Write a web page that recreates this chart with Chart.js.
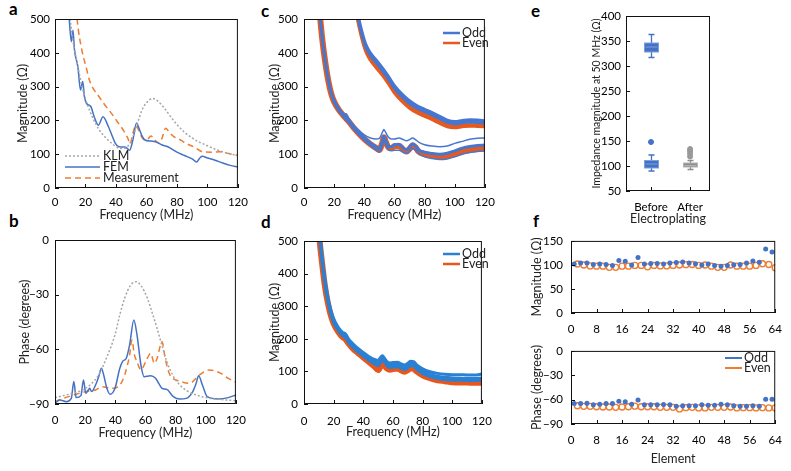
<!DOCTYPE html>
<html>
<head>
<meta charset="utf-8">
<script src="https://cdn.jsdelivr.net/npm/chart.js@4.4.1/dist/chart.umd.min.js"></script>
<style>
body { margin: 0; background: #fff; width: 791px; height: 471px; position: relative; overflow: hidden; }
canvas { position: absolute; }
.lbl { position: absolute; font: bold 17px Lato, sans-serif; line-height: 17px; color: #000; }
</style>
</head>
<body>
<div class="lbl" style="left:9px;top:0px">a</div>
<div class="lbl" style="left:9px;top:212px">b</div>
<div class="lbl" style="left:261px;top:2px">c</div>
<div class="lbl" style="left:261px;top:213px">d</div>
<div class="lbl" style="left:531px;top:2px">e</div>
<div class="lbl" style="left:533px;top:212px">f</div>
<canvas id="ca"></canvas>
<canvas id="cb"></canvas>
<canvas id="cc"></canvas>
<canvas id="cd"></canvas>
<canvas id="ce"></canvas>
<canvas id="cf1"></canvas>
<canvas id="cf2"></canvas>
<script>
// ---- a: impedance magnitude, single element ----
const aKlmFreq = [9, 10, 12, 15, 18, 21, 25, 29, 33, 37, 41, 45, 48, 51, 54, 57, 60, 64, 68, 72, 76, 80, 85, 90, 95, 100, 105, 110, 115, 120];
const aKlmMag = [560, 500, 430, 360, 295, 250, 205, 172, 150, 133, 120, 117, 125, 150, 190, 230, 252, 265, 255, 235, 210, 188, 165, 148, 135, 125, 115, 107, 101, 96];
const aFemFreq = [8.5, 9.5, 10.7, 11.8, 12.8, 15, 16.7, 18.2, 19.3, 20.7, 23.5, 25.7, 28.4, 31.5, 35, 37, 39.5, 42, 46, 49, 51, 53.5, 55, 57, 59, 63, 67, 70, 74, 80, 85, 90, 93, 94.5, 96.5, 100, 105, 110, 115, 120];
const aFemMag = [560, 490, 433, 467, 408, 359, 290, 315, 270, 250, 241, 211, 186, 211, 182, 160, 133, 122, 121, 112, 140, 192, 178, 155, 142, 139, 135, 128, 122, 106, 96, 86, 77, 86, 94, 89, 82, 74, 67, 62];
const aMeasFreq = [13.5, 14.5, 18, 20.3, 22.5, 25, 28.9, 32, 35.3, 38, 41.7, 45, 48, 49.3, 51, 53.2, 55, 57, 59, 61, 63, 65, 68.4, 70, 72.7, 75, 78, 82.4, 86, 91, 97, 103, 108, 114, 120];
const aMeasMag = [560, 500, 400, 360, 320, 295, 270, 250, 231, 215, 191, 170, 145, 130, 160, 186, 170, 150, 142, 145, 154, 145, 132, 145, 177, 165, 152, 142, 132, 122, 107, 106, 107, 102, 96];

// ---- b: phase, single element ----
const bKlmFreq = [0, 10, 18.3, 24, 29, 34, 39.8, 43, 46.2, 50, 53.8, 57, 61.3, 64.5, 67.7, 71, 74.2, 78, 82.8, 88, 93.5, 100, 108.6, 120];
const bKlmPhase = [-86.5, -84.5, -82.3, -79, -74, -65, -52, -41, -32, -25, -22.9, -25, -32, -40, -48.5, -58, -66.8, -74, -79.6, -83, -85, -86.5, -87.4, -88.2];
const bFemFreq = [0, 3.2, 7.5, 10.8, 12.5, 14, 17.2, 18.9, 20.4, 22.1, 23, 24.3, 26.9, 29, 30.8, 32.3, 34.4, 36.6, 39.8, 43, 45, 47.3, 49.5, 52.3, 54.4, 57, 59.1, 63.4, 66.7, 69, 71, 74.2, 78.5, 82.8, 87.1, 91.4, 93.5, 95.3, 97.8, 101, 108.6, 115, 120];
const bFemPhase = [-89.6, -87.8, -88.7, -86.9, -77.7, -86.5, -85.4, -76.8, -84.1, -82.3, -81.4, -83.2, -79.6, -75, -70.4, -74.1, -81.4, -84.7, -81.4, -70.4, -66.5, -64.9, -57.6, -43.9, -52.1, -68.6, -75, -74.5, -75.9, -79, -81.4, -82, -86, -87.3, -86.9, -83.2, -79, -74.5, -79.6, -86, -87.3, -86.5, -85];
const bMeasFreq = [0, 5.4, 14, 20.4, 26.9, 31.2, 37.6, 43, 46.2, 49.5, 51, 52.7, 54.4, 57, 60.2, 63.4, 66, 67.7, 71, 73.1, 76.3, 82.8, 89.2, 95.7, 102.2, 108.6, 115, 120];
const bMeasPhase = [-88.7, -86.9, -84.7, -83.2, -82.3, -80.5, -81.4, -79.6, -74.1, -63.1, -54.9, -63.1, -66.8, -71.3, -66.8, -62.2, -67.7, -65, -55.8, -65, -74.1, -77.4, -78.7, -74.1, -71.3, -72.6, -75.9, -78.1];

// ---- c: array magnitude before electroplating ----
const cHiFreq = [33, 35, 38, 41, 44, 48, 52, 56, 60, 65, 70, 75, 80, 85, 90, 95, 100, 105, 110, 115, 120];
const cHiOddA = [580, 530, 470, 425, 400, 378, 355, 330, 303, 278, 258, 243, 233, 223, 212, 201, 197, 200, 202, 201, 199];
const cHiOddB = [572, 522, 462, 417, 392, 370, 347, 322, 295, 270, 250, 236, 226, 216, 205, 194, 190, 193, 195, 194, 192];
const cHiEvenA = [565, 515, 455, 410, 385, 362, 340, 315, 288, 263, 243, 229, 219, 209, 198, 187, 183, 186, 188, 187, 186];
const cHiEvenB = [558, 508, 448, 403, 378, 355, 333, 308, 281, 256, 236, 222, 212, 202, 191, 181, 178, 181, 183, 182, 181];
const cLoFreq = [10, 11, 12, 14, 16, 18, 20, 23, 26, 28, 30, 33, 36, 40, 44, 48, 50, 52, 53, 54, 56, 58, 60, 63, 66, 68, 70, 72, 74, 76, 80, 85, 90, 95, 100, 105, 110, 115, 120];
const cLoOddTop = [545, 495, 450, 380, 325, 285, 260, 237, 220, 220, 203, 186, 172, 157, 148, 145, 147, 165, 173, 166, 150, 145, 145, 148, 143, 140, 143, 148, 143, 136, 128, 124, 122, 124, 132, 138, 144, 147, 148];
const cLoOddMid = [542, 493, 448, 378, 323, 283, 258, 235, 218, 211, 198, 181, 166, 148, 133, 121, 116, 138, 153, 143, 124, 122, 128, 129, 118, 113, 121, 131, 125, 113, 106, 102, 100, 103, 110, 118, 123, 126, 127];
const cLoOddLow = [535, 485, 440, 370, 315, 275, 250, 227, 210, 199, 190, 173, 158, 140, 125, 111, 106, 125, 142, 132, 112, 110, 112, 112, 105, 102, 108, 117, 112, 102, 92, 87, 84, 86, 92, 100, 105, 108, 110];
const cLoEven = [540, 490, 445, 375, 320, 280, 255, 232, 215, 205, 195, 178, 163, 145, 130, 118, 113, 135, 150, 140, 120, 118, 124, 125, 113, 108, 116, 126, 120, 108, 100, 96, 93, 95, 100, 108, 112, 115, 117];

// ---- d: array magnitude after electroplating ----
const dFreq = [10, 11, 12, 14, 16, 18, 20, 23, 26, 28, 30, 33, 36, 40, 44, 48, 50, 52, 53, 54, 56, 58, 60, 63, 66, 68, 70, 72, 74, 76, 80, 85, 90, 95, 100, 105, 110, 115, 120];
const dOddTop = [560, 505, 460, 385, 330, 290, 262, 236, 220, 215, 200, 185, 172, 158, 145, 136, 134, 145, 148, 142, 130, 126, 127, 128, 122, 120, 125, 131, 130, 120, 108, 99, 94, 91, 90, 90, 89, 89, 92];
const dOddMid = [552, 498, 453, 378, 323, 283, 255, 230, 214, 209, 194, 179, 166, 152, 139, 129, 126, 138, 142, 136, 124, 119, 120, 121, 116, 114, 119, 125, 124, 114, 101, 91, 85, 82, 80, 79, 78, 78, 80];
const dOddLow = [545, 492, 447, 372, 318, 278, 250, 226, 210, 204, 189, 174, 161, 147, 133, 122, 117, 131, 136, 130, 117, 112, 113, 114, 109, 106, 111, 117, 116, 106, 94, 84, 78, 75, 73, 73, 72, 72, 74];
const dEven = [530, 480, 440, 365, 312, 273, 247, 222, 205, 199, 186, 170, 158, 143, 128, 113, 104, 119, 127, 121, 109, 105, 107, 109, 102, 99, 104, 110, 108, 100, 88, 79, 73, 70, 67, 66, 66, 65, 65];

// ---- e: impedance at 50 MHz, box stats [min, q1, median, q3, max] ----
const eGroups = ['Before', 'After'];
const eBeforeHighBox = [317, 328, 338, 346, 363];
const eBeforeLowBox = [90, 96, 104, 111, 122];
const eAfterBox = [93, 98, 101, 106, 111];
const eBeforeOutliers = [148];
const eAfterOutliers = [119, 125, 130, 134];

// ---- f: per-element values at 50 MHz ----
const fOddElem = [1, 3, 5, 7, 9, 11, 13, 15, 17, 19, 21, 23, 25, 27, 29, 31, 33, 35, 37, 39, 41, 43, 45, 47, 49, 51, 53, 55, 57, 59, 61, 63];
const fEvenElem = [2, 4, 6, 8, 10, 12, 14, 16, 18, 20, 22, 24, 26, 28, 30, 32, 34, 36, 38, 40, 42, 44, 46, 48, 50, 52, 54, 56, 58, 60, 62, 64];
const fOddMag = [102, 104, 104, 101, 102, 101, 99, 109, 107.5, 100, 115.6, 102, 103, 103, 102, 104, 105, 106, 104, 102.5, 100, 102, 99, 97.5, 99, 100.6, 101, 104, 108, 105.6, 133, 127];
const fEvenMag = [102, 100, 98, 97.5, 97.5, 95, 95, 97.5, 97.5, 99, 99, 96, 99, 98, 98, 99, 100, 100.6, 101, 99, 100, 97.5, 95, 95, 100, 97.5, 97.5, 97.5, 99, 102.5, 101, 94];
const fOddPhase = [-64.9, -64.9, -64.5, -66.4, -65.7, -64.9, -64.9, -61.9, -62.6, -65.7, -60.4, -66.4, -66.4, -66.4, -66, -66.4, -68.3, -67.6, -67.6, -67.6, -66.4, -66.8, -66.8, -65.7, -66.4, -67.6, -68, -68.3, -67.6, -68.3, -59.6, -59.6];
const fEvenPhase = [-67.6, -68.3, -68.3, -68.7, -69.1, -69.1, -69.5, -69.1, -68.7, -68, -68.7, -68.7, -68.7, -69.5, -69.5, -69.5, -71.4, -69.9, -69.5, -70.2, -70.2, -69.5, -69.5, -69.5, -69.1, -70.2, -69.9, -69.9, -70.2, -69.9, -70.2, -70.2];

const BLUE = '#4472c4', ORANGE = '#ed7d31', GREY = '#a6a6a6';
const C_BLUE = '#4677d0', C_ORANGE = '#e65a1e';
const D_BLUE = '#2a80d2', D_ORANGE = '#e8561c';

const TICK_SIZE = 11.5, TITLE_SIZE = 12.5, LEGEND_SIZE = 12.5;

Chart.defaults.font.family = 'Lato, sans-serif';
Chart.defaults.font.size = TICK_SIZE;
Chart.defaults.color = '#000';
Chart.defaults.animation = false;
Chart.defaults.plugins.legend.display = false;
Chart.defaults.plugins.tooltip.enabled = false;
Chart.defaults.elements.point.radius = 0;

function pts(xs, ys) {
    return xs.map((x, i) => ({ x: x, y: ys[i] }));
}

function curve(label, xs, ys, color, width, dash) {
    return {
        label: label,
        data: pts(xs, ys),
        borderColor: color,
        backgroundColor: color,
        borderWidth: width,
        borderDash: dash || [],
        fill: false,
        cubicInterpolationMode: 'monotone'
    };
}

const minus = v => String(v).replace('-', '\u2212');

// box round the plot and short ticks pointing inwards
const frame = {
    id: 'frame',
    afterDraw(chart) {
        const { ctx, chartArea: a, scales } = chart;
        ctx.save();
        ctx.strokeStyle = '#111';
        ctx.lineWidth = 1;
        ctx.strokeRect(a.left + 0.5, a.top + 0.5, a.right - a.left - 1, a.bottom - a.top - 1);
        ctx.beginPath();
        scales.x.ticks.forEach((t, i) => {
            const px = Math.round(scales.x.getPixelForTick(i)) + 0.5;
            ctx.moveTo(px, a.bottom);
            ctx.lineTo(px, a.bottom - 4);
        });
        scales.y.ticks.forEach((t, i) => {
            const py = Math.round(scales.y.getPixelForTick(i)) + 0.5;
            ctx.moveTo(a.left, py);
            ctx.lineTo(a.left + 4, py);
        });
        ctx.stroke();
        ctx.restore();
    }
};

// legend drawn with short line samples at given spots
const lineLegend = {
    id: 'lineLegend',
    afterDraw(chart, args, o) {
        if (!o.items) return;
        const ctx = chart.ctx;
        ctx.save();
        ctx.font = LEGEND_SIZE + 'px Lato, sans-serif';
        ctx.textBaseline = 'middle';
        ctx.fillStyle = '#222';
        o.items.forEach((it, i) => {
            const y = o.y + i * o.row;
            ctx.strokeStyle = it.color;
            ctx.lineWidth = it.width;
            ctx.setLineDash(it.dash || []);
            ctx.beginPath();
            ctx.moveTo(o.x0, y);
            ctx.lineTo(o.x1, y);
            ctx.stroke();
            ctx.fillText(it.label, o.tx, y);
        });
        ctx.restore();
    }
};

// box and whiskers for panel e
const boxPlot = {
    id: 'boxPlot',
    beforeDatasetsDraw(chart, args, o) {
        if (!o.boxes) return;
        const { ctx, scales: { x, y } } = chart;
        o.boxes.forEach(b => {
            const cx = Math.round(x.getPixelForValue(b.pos)) + 0.5;
            const [lo, q1, med, q3, hi] = b.stats.map(v => y.getPixelForValue(v));
            const hw = o.width / 2;
            ctx.save();
            ctx.strokeStyle = b.color;
            ctx.lineWidth = 1.3;
            ctx.beginPath();
            ctx.moveTo(cx, lo); ctx.lineTo(cx, q1);
            ctx.moveTo(cx, q3); ctx.lineTo(cx, hi);
            ctx.moveTo(cx - 3, lo); ctx.lineTo(cx + 3, lo);
            ctx.moveTo(cx - 3, hi); ctx.lineTo(cx + 3, hi);
            ctx.stroke();
            ctx.fillStyle = b.color;
            ctx.fillRect(cx - hw, q3, 2 * hw, q1 - q3);
            ctx.strokeStyle = b.light;
            ctx.lineWidth = 1;
            ctx.strokeRect(cx - hw, q3, 2 * hw, q1 - q3);
            ctx.beginPath();
            ctx.moveTo(cx - hw + 1, med); ctx.lineTo(cx + hw - 1, med);
            ctx.stroke();
            ctx.restore();
        });
    }
};

Chart.register(frame, lineLegend, boxPlot);

// p: cv (canvas box), plot (plot box), page coordinates
function makeChart(id, p, datasets, extra) {
    const el = document.getElementById(id);
    el.width = p.cv.w;
    el.height = p.cv.h;
    el.style.left = p.cv.x + 'px';
    el.style.top = p.cv.y + 'px';

    const tickHalf = TICK_SIZE * 0.6;
    const xTitleSize = p.xTitleSize || TITLE_SIZE;
    const yTitleSize = p.yTitleSize || TITLE_SIZE;
    const opts = {
        responsive: false,
        layout: { padding: { left: 0, top: p.plot.t - p.cv.y, right: p.cv.x + p.cv.w - p.plot.r, bottom: 0 } },
        scales: {
            x: {
                type: 'linear',
                min: p.x[0], max: p.x[1],
                ticks: { stepSize: p.x[2], padding: p.xTickY - p.plot.b - tickHalf, autoSkip: false, maxRotation: 0, callback: p.xLabels || minus },
                grid: { display: false, drawTicks: false },
                border: { display: false },
                title: {
                    display: !!p.xTitle, text: p.xTitle || '', color: '#222', font: { size: xTitleSize },
                    padding: { top: 0, bottom: p.xTitle ? p.cv.y + p.cv.h - p.xTitleY - xTitleSize * 0.6 : 0 }
                },
                afterBuildTicks: p.xTicks ? (s => { s.ticks = p.xTicks.map(v => ({ value: v })); }) : undefined,
                afterFit: s => { s.height = p.cv.y + p.cv.h - p.plot.b; }
            },
            y: {
                min: p.y[0], max: p.y[1],
                ticks: { stepSize: p.y[2], padding: p.plot.l - p.yTickRight, autoSkip: false, callback: minus },
                grid: { display: false, drawTicks: false },
                border: { display: false },
                title: {
                    display: true, text: p.yTitle, color: '#222', font: { size: yTitleSize },
                    padding: { top: p.yTitleX - p.cv.x - yTitleSize * 0.6, bottom: 0 }
                },
                afterFit: s => { s.width = p.plot.l - p.cv.x; }
            }
        },
        plugins: {}
    };
    if (p.legend) {
        const L = p.legend;
        opts.plugins.lineLegend = { items: L.items, x0: L.x0 - p.cv.x, x1: L.x1 - p.cv.x, tx: L.tx - p.cv.x, y: L.y - p.cv.y, row: L.row };
    }
    if (extra) Object.assign(opts.plugins, extra);
    return new Chart(el, { type: 'line', data: { datasets: datasets }, options: opts });
}

const freqAxis = [0, 120, 20];

// a
makeChart('ca', {
    cv: { x: 0, y: 0, w: 255, h: 222 }, plot: { l: 55, t: 19, r: 242, b: 188 },
    x: freqAxis, y: [0, 500, 100], xTitle: 'Frequency (MHz)', yTitle: 'Magnitude (\u03a9)',
    yTitleX: 23, xTickY: 202, xTitleY: 215, yTickRight: 50,
    legend: {
        x0: 65, x1: 100, tx: 103, y: 156, row: 11,
        items: [
            { label: 'KLM', color: GREY, width: 1.5, dash: [2, 2] },
            { label: 'FEM', color: BLUE, width: 1.5 },
            { label: 'Measurement', color: ORANGE, width: 1.5, dash: [6, 4] }
        ]
    }
}, [
    curve('KLM', aKlmFreq, aKlmMag, GREY, 1.5, [2, 2]),
    curve('FEM', aFemFreq, aFemMag, BLUE, 1.5),
    curve('Measurement', aMeasFreq, aMeasMag, ORANGE, 1.5, [6, 4])
]);

// b
makeChart('cb', {
    cv: { x: 0, y: 226, w: 255, h: 214 }, plot: { l: 55, t: 240, r: 241, b: 404 },
    x: freqAxis, y: [-90, 0, 30], xTitle: 'Frequency (MHz)', yTitle: 'Phase (degrees)',
    yTitleX: 25, xTickY: 420, xTitleY: 433, yTickRight: 49
}, [
    curve('KLM', bKlmFreq, bKlmPhase, GREY, 1.5, [2, 2]),
    curve('FEM', bFemFreq, bFemPhase, BLUE, 1.5),
    curve('Measurement', bMeasFreq, bMeasPhase, ORANGE, 1.5, [6, 4])
]);

// c
makeChart('cc', {
    cv: { x: 262, y: 0, w: 240, h: 222 }, plot: { l: 304, t: 19, r: 492, b: 188 },
    x: freqAxis, y: [0, 500, 100], xTitle: 'Frequency (MHz)', yTitle: 'Magnitude (\u03a9)',
    yTitleX: 275, xTickY: 202, xTitleY: 215, yTickRight: 298,
    legend: {
        x0: 443, x1: 460, tx: 462, y: 33, row: 10,
        items: [
            { label: 'Odd', color: C_BLUE, width: 2.5 },
            { label: 'Even', color: C_ORANGE, width: 2.5 }
        ]
    }
}, [
    curve('Odd', cHiFreq, cHiOddA, C_BLUE, 3),
    curve('Odd', cHiFreq, cHiOddB, C_BLUE, 3),
    curve('Even', cHiFreq, cHiEvenA, C_ORANGE, 3),
    curve('Even', cHiFreq, cHiEvenB, C_ORANGE, 3),
    curve('Odd', cLoFreq, cLoOddTop, C_BLUE, 1.5),
    curve('Odd', cLoFreq, cLoOddLow, C_BLUE, 1.5),
    curve('Odd', cLoFreq, cLoOddMid, C_BLUE, 3),
    curve('Even', cLoFreq, cLoEven, C_ORANGE, 6)
]);

// d
makeChart('cd', {
    cv: { x: 262, y: 226, w: 240, h: 214 }, plot: { l: 304, t: 241, r: 492, b: 404 },
    x: freqAxis, y: [0, 500, 100], xTitle: 'Frequency (MHz)', yTitle: 'Magnitude (\u03a9)',
    yTitleX: 275, xTickY: 421, xTitleY: 432, yTickRight: 298,
    legend: {
        x0: 443, x1: 460, tx: 462, y: 254, row: 10,
        items: [
            { label: 'Odd', color: D_BLUE, width: 2.5 },
            { label: 'Even', color: D_ORANGE, width: 2.5 }
        ]
    }
}, [
    curve('Odd', dFreq, dOddTop, D_BLUE, 3),
    curve('Odd', dFreq, dOddMid, D_BLUE, 3),
    curve('Odd', dFreq, dOddLow, D_BLUE, 3),
    curve('Even', dFreq, dEven, D_ORANGE, 6)
]);

// e
makeChart('ce', {
    cv: { x: 585, y: 0, w: 140, h: 226 }, plot: { l: 626, t: 16, r: 710, b: 191 },
    x: [0.36, 2.51, 1], y: [50, 400, 50], xTitle: 'Electroplating', yTitle: 'Impedance magnitude at 50 MHz (\u03a9)',
    yTitleX: 597, xTickY: 207, xTitleY: 219, yTickRight: 621, yTitleSize: 10.5,
    xTicks: [1, 2], xLabels: v => eGroups[v - 1]
}, [
    {
        type: 'scatter', label: 'Before', data: eBeforeOutliers.map(v => ({ x: 1, y: v })),
        pointRadius: 2.5, backgroundColor: BLUE, borderColor: BLUE, showLine: false
    },
    {
        type: 'scatter', label: 'After', data: eAfterOutliers.map(v => ({ x: 2, y: v })),
        pointRadius: 2.5, backgroundColor: '#999', borderColor: '#999', showLine: false
    }
], {
    boxPlot: {
        width: 14,
        boxes: [
            { pos: 1, stats: eBeforeHighBox, color: BLUE, light: '#7d9fdc' },
            { pos: 1, stats: eBeforeLowBox, color: BLUE, light: '#7d9fdc' },
            { pos: 2, stats: eAfterBox, color: '#8c8c8c', light: '#b5b5b5' }
        ]
    }
});

function dots(label, xs, ys, color, hollow) {
    return {
        type: 'scatter', label: label, data: pts(xs, ys), showLine: false,
        pointRadius: hollow ? 3 : 2.5, pointBorderWidth: hollow ? 1.4 : 0,
        backgroundColor: hollow ? 'rgba(0,0,0,0)' : color, borderColor: color
    };
}

// f top
makeChart('cf1', {
    cv: { x: 530, y: 226, w: 261, h: 110 }, plot: { l: 571, t: 233, r: 778, b: 313 },
    x: [0, 64, 8], y: [0, 150, 50], yTitle: 'Magnitude (\u03a9)',
    yTitleX: 537, xTickY: 329, yTickRight: 563
}, [
    dots('Odd', fOddElem, fOddMag, BLUE, false),
    dots('Even', fEvenElem, fEvenMag, ORANGE, true)
]);

// f bottom
makeChart('cf2', {
    cv: { x: 530, y: 336, w: 261, h: 135 }, plot: { l: 571, t: 345, r: 778, b: 424 },
    x: [0, 64, 8], y: [-90, 0, 30], xTitle: 'Element', yTitle: 'Phase (degrees)',
    yTitleX: 537, xTickY: 440, xTitleY: 459, yTickRight: 563,
    legend: {
        x0: 725, x1: 742, tx: 744, y: 358, row: 10,
        items: [
            { label: 'Odd', color: BLUE, width: 2 },
            { label: 'Even', color: ORANGE, width: 2 }
        ]
    }
}, [
    dots('Odd', fOddElem, fOddPhase, BLUE, false),
    dots('Even', fEvenElem, fEvenPhase, ORANGE, true)
]);
</script>
</body>
</html>
